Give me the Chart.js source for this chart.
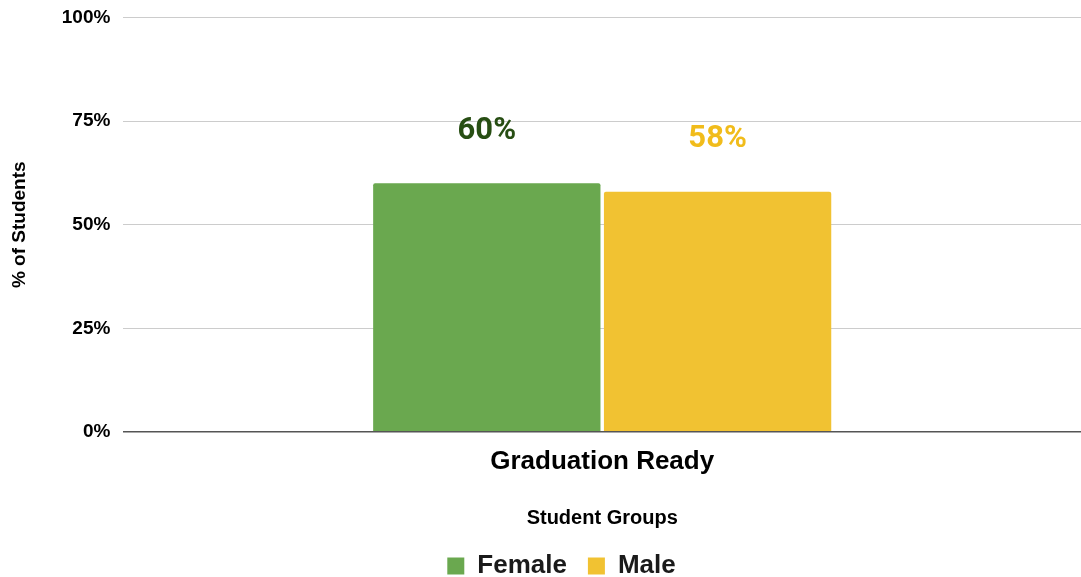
<!DOCTYPE html>
<html>
<head>
<meta charset="utf-8">
<script src="https://cdn.jsdelivr.net/npm/chart.js@4.4.0/dist/chart.umd.min.js"></script>
<style>
  html, body { margin: 0; padding: 0; background: #fff; }
  #wrap { width: 1081px; height: 577px; }
</style>
</head>
<body>
<div id="wrap"><canvas id="myChart" width="1081" height="577"></canvas></div>
<script>
const categories = ['Graduation Ready'];
const femaleValues = [60];
const maleValues = [58];
const yTicks = [0, 25, 50, 75, 100];

// draws the % labels above each bar
const valueLabels = {
    id: 'valueLabels',
    afterDatasetsDraw(chart) {
        const ctx = chart.ctx;
        ctx.save();
        ctx.font = 'bold 31px Roboto, "Open Sans", sans-serif';
        ctx.textAlign = 'center';
        ctx.textBaseline = 'middle';
        chart.data.datasets.forEach((ds, i) => {
            chart.getDatasetMeta(i).data.forEach((bar, j) => {
                ctx.fillStyle = ds.labelColor;
                ctx.fillText(ds.data[j] + '%', bar.x, bar.y - 52);
            });
        });
        ctx.restore();
    }
};

// legend sits a bit right of the canvas centre in the original
const legendShift = {
    id: 'legendShift',
    afterLayout(chart) {
        chart.legend.left += 17;
        chart.legend.right += 17;
    }
};

document.addEventListener("DOMContentLoaded", function() {
    const ctx = document.getElementById('myChart').getContext('2d');

    const myChart = new Chart(ctx, {
        type: 'bar',
        data: {
            labels: categories,
            datasets: [
                {
                    label: 'Female',
                    data: femaleValues,
                    backgroundColor: '#6aa84f',
                    labelColor: '#274e13',
                    borderRadius: 2,
                    borderSkipped: 'bottom'
                },
                {
                    label: 'Male',
                    data: maleValues,
                    backgroundColor: '#f1c232',
                    labelColor: '#f1bc1b',
                    borderRadius: 2,
                    borderSkipped: 'bottom'
                }
            ]
        },
        options: {
            responsive: false,
            animation: false,
            categoryPercentage: 0.482,
            barPercentage: 0.985,
            layout: {
                padding: { top: 0, right: 0, left: 8, bottom: -12 }
            },
            scales: {
                x: {
                    grid: { display: false },
                    border: { display: false },
                    ticks: {
                        color: '#000',
                        font: { family: 'Liberation Sans, Arial', size: 26, weight: 'bold' },
                        padding: 6
                    },
                    title: {
                        display: true,
                        text: 'Student Groups',
                        color: '#000',
                        font: { family: 'Liberation Sans, Arial', size: 20, weight: 'bold' },
                        padding: { top: 23, bottom: 2 }
                    }
                },
                y: {
                    min: 0,
                    max: 100,
                    afterBuildTicks: axis => { axis.ticks = yTicks.map(v => ({ value: v })); },
                    grid: {
                        color: ctx => ctx.tick && ctx.tick.value === 0 ? '#555' : '#cccccc',
                        lineWidth: ctx => ctx.tick && ctx.tick.value === 0 ? 1.5 : 1,
                        drawTicks: false
                    },
                    border: { display: false },
                    ticks: {
                        color: '#000',
                        font: { family: 'Liberation Sans, Arial', size: 19, weight: 'bold', lineHeight: 0.5 },
                        padding: 13,
                        callback: v => v + '%'
                    },
                    title: {
                        display: true,
                        text: '% of Students',
                        color: '#000',
                        font: { family: 'Liberation Sans, Arial', size: 19, weight: 'bold' },
                        padding: { top: 0, bottom: 18 }
                    }
                }
            },
            plugins: {
                legend: {
                    position: 'bottom',
                    labels: {
                        color: '#1a1a1a',
                        boxWidth: 17,
                        boxHeight: 17,
                        padding: 21,
                        font: { family: 'Liberation Sans, Arial', size: 26, weight: 'bold' }
                    }
                },
                tooltip: { enabled: false }
            }
        },
        plugins: [valueLabels, legendShift]
    });
});
</script>
</body>
</html>
